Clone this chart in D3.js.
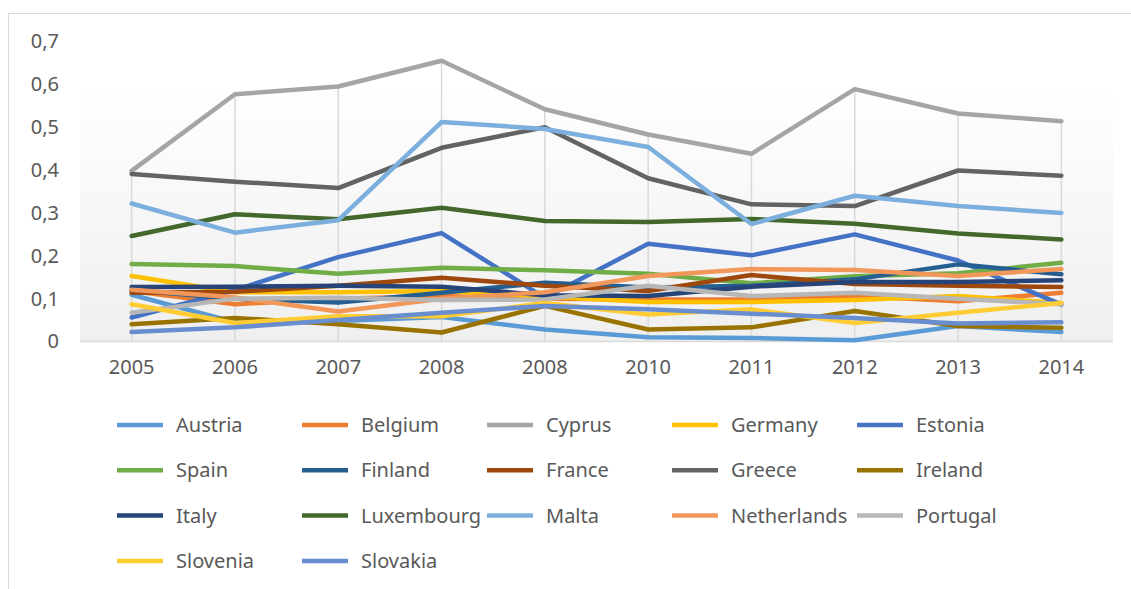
<!DOCTYPE html>
<html>
<head>
<meta charset="utf-8">
<script src="https://cdn.jsdelivr.net/npm/d3@7"></script>
<style>
  html, body { margin: 0; padding: 0; background: #ffffff; }
  svg { display: block; }
  text { font-family: "Noto Sans", "Open Sans", sans-serif; fill: #595959; }
</style>
</head>
<body>
<svg id="chart" width="1131" height="589"></svg>
<script>
// Category labels along the x axis (as labelled in the source table)
const years = ["2005", "2006", "2007", "2008", "2008", "2010", "2011", "2012", "2013", "2014"];

// Y axis tick values
const yTicks = [0, 0.1, 0.2, 0.3, 0.4, 0.5, 0.6, 0.7];

// One array per country
const austria     = [0.109, 0.045, 0.048, 0.057, 0.028, 0.010, 0.008, 0.003, 0.036, 0.022];
const belgium     = [0.118, 0.087, 0.100, 0.106, 0.100, 0.098, 0.098, 0.106, 0.094, 0.114];
const cyprus      = [0.398, 0.577, 0.595, 0.655, 0.542, 0.483, 0.438, 0.589, 0.532, 0.514];
const germany     = [0.153, 0.115, 0.115, 0.118, 0.105, 0.092, 0.092, 0.097, 0.106, 0.090];
const estonia     = [0.056, 0.120, 0.197, 0.253, 0.102, 0.228, 0.201, 0.250, 0.189, 0.086];
const spain       = [0.181, 0.176, 0.158, 0.172, 0.166, 0.158, 0.136, 0.152, 0.159, 0.184];
const finland     = [0.120, 0.100, 0.091, 0.114, 0.137, 0.126, 0.130, 0.145, 0.180, 0.157];
const france      = [0.114, 0.116, 0.130, 0.149, 0.130, 0.118, 0.155, 0.134, 0.130, 0.127];
const greece      = [0.391, 0.373, 0.358, 0.452, 0.500, 0.381, 0.320, 0.316, 0.399, 0.387];
const ireland     = [0.040, 0.055, 0.040, 0.021, 0.083, 0.028, 0.033, 0.071, 0.036, 0.032];
const italy       = [0.127, 0.128, 0.130, 0.128, 0.108, 0.106, 0.128, 0.139, 0.139, 0.143];
const luxembourg  = [0.246, 0.297, 0.285, 0.312, 0.281, 0.279, 0.286, 0.275, 0.252, 0.238];
const malta       = [0.322, 0.254, 0.283, 0.512, 0.496, 0.454, 0.274, 0.340, 0.316, 0.300];
const netherlands = [0.121, 0.103, 0.070, 0.100, 0.115, 0.153, 0.169, 0.167, 0.153, 0.169];
const portugal    = [0.067, 0.100, 0.102, 0.097, 0.098, 0.130, 0.106, 0.114, 0.100, 0.087];
const slovenia    = [0.087, 0.043, 0.059, 0.059, 0.090, 0.063, 0.075, 0.043, 0.067, 0.090];
const slovakia    = [0.022, 0.033, 0.050, 0.067, 0.083, 0.075, 0.065, 0.055, 0.042, 0.045];

const countries = ["Austria", "Belgium", "Cyprus", "Germany", "Estonia", "Spain", "Finland", "France",
  "Greece", "Ireland", "Italy", "Luxembourg", "Malta", "Netherlands", "Portugal", "Slovenia", "Slovakia"];
const values = [austria, belgium, cyprus, germany, estonia, spain, finland, france,
  greece, ireland, italy, luxembourg, malta, netherlands, portugal, slovenia, slovakia];
const colors = ["#5B9BD5", "#ED7D31", "#A5A5A5", "#FFC000", "#4472C4", "#70AD47", "#255E91", "#9E480E",
  "#636363", "#997300", "#264478", "#43682B", "#7CAFDD", "#F1975A", "#B7B7B7", "#FFCD33", "#698ED0"];

const series = countries.map((name, i) => ({ name, color: colors[i], values: values[i] }));

const svg = d3.select("#chart");

// Outer chart frame
svg.append("rect")
  .attr("x", 8.5).attr("y", 13.5)
  .attr("width", 1140).attr("height", 600)
  .attr("fill", "#ffffff").attr("stroke", "#d9d9d9").attr("stroke-width", 1);

const plot = { left: 80, right: 1113, top: 40, bottom: 341.5 };

const x = d3.scaleBand()
  .domain(d3.range(years.length))
  .range([plot.left, plot.right]);
const xc = i => x(i) + x.bandwidth() / 2;

const y = d3.scaleLinear()
  .domain([0, 0.7])
  .range([plot.bottom, plot.top + 1.5]);

// Plot area with a soft vertical gradient
const defs = svg.append("defs");
const grad = defs.append("linearGradient")
  .attr("id", "plotFill").attr("x1", 0).attr("y1", 0).attr("x2", 0).attr("y2", 1);
grad.append("stop").attr("offset", "0%").attr("stop-color", "#ffffff");
grad.append("stop").attr("offset", "100%").attr("stop-color", "#efefef");

svg.append("rect")
  .attr("x", plot.left).attr("y", 82)
  .attr("width", plot.right - plot.left).attr("height", plot.bottom - 82)
  .attr("fill", "url(#plotFill)");

// Drop lines from the highest value in each category down to the axis
const maxByYear = years.map((_, i) => d3.max(values, v => v[i]));
svg.append("g").selectAll("line")
  .data(maxByYear)
  .join("line")
  .attr("x1", (d, i) => xc(i)).attr("x2", (d, i) => xc(i))
  .attr("y1", d => y(d)).attr("y2", y(0))
  .attr("stroke", "#d9d9d9").attr("stroke-width", 1.5);

// Category axis line
svg.append("line")
  .attr("x1", plot.left).attr("x2", plot.right)
  .attr("y1", y(0)).attr("y2", y(0))
  .attr("stroke", "#d9d9d9").attr("stroke-width", 1.5);

// Y axis labels (decimal comma)
const fmt = d => d === 0 ? "0" : d3.format(".1f")(d).replace(".", ",");
const yAxis = d3.axisLeft(y).tickValues(yTicks).tickFormat(fmt).tickSize(0).tickPadding(0);
const gy = svg.append("g").attr("transform", "translate(59,0)").call(yAxis);
gy.select(".domain").remove();
gy.selectAll("text")
  .style("font-family", "'Noto Sans', sans-serif")
  .style("font-size", "20px").attr("fill", "#595959");

// X axis labels
const xAxis = d3.axisBottom(x).tickFormat(i => years[i]).tickSize(0).tickPadding(0);
const gx = svg.append("g").attr("transform", `translate(0,${y(0) + 18})`).call(xAxis);
gx.select(".domain").remove();
gx.selectAll("text")
  .style("font-family", "'Noto Sans', sans-serif")
  .style("font-size", "20px").attr("fill", "#595959");

// Series lines
const line = d3.line()
  .x((d, i) => xc(i))
  .y(d => y(d));

svg.append("g").selectAll("path")
  .data(series)
  .join("path")
  .attr("d", d => line(d.values))
  .attr("fill", "none")
  .attr("stroke", d => d.color)
  .attr("stroke-width", 4.5)
  .attr("stroke-linejoin", "round")
  .attr("stroke-linecap", "round");

// Legend: five entries per row
const legend = svg.append("g");
const colStep = 185, rowStep = 45.3, legX = 117, legY = 425;
const items = legend.selectAll("g")
  .data(series)
  .join("g")
  .attr("transform", (d, i) => `translate(${legX + (i % 5) * colStep},${legY + Math.floor(i / 5) * rowStep})`);
items.append("line")
  .attr("x1", 0).attr("x2", 46).attr("y1", 0).attr("y2", 0)
  .attr("stroke", d => d.color).attr("stroke-width", 4.5);
items.append("text")
  .attr("x", 59).attr("y", 0).attr("dy", "0.35em")
  .style("font-size", "20px")
  .text(d => d.name);
</script>
</body>
</html>
